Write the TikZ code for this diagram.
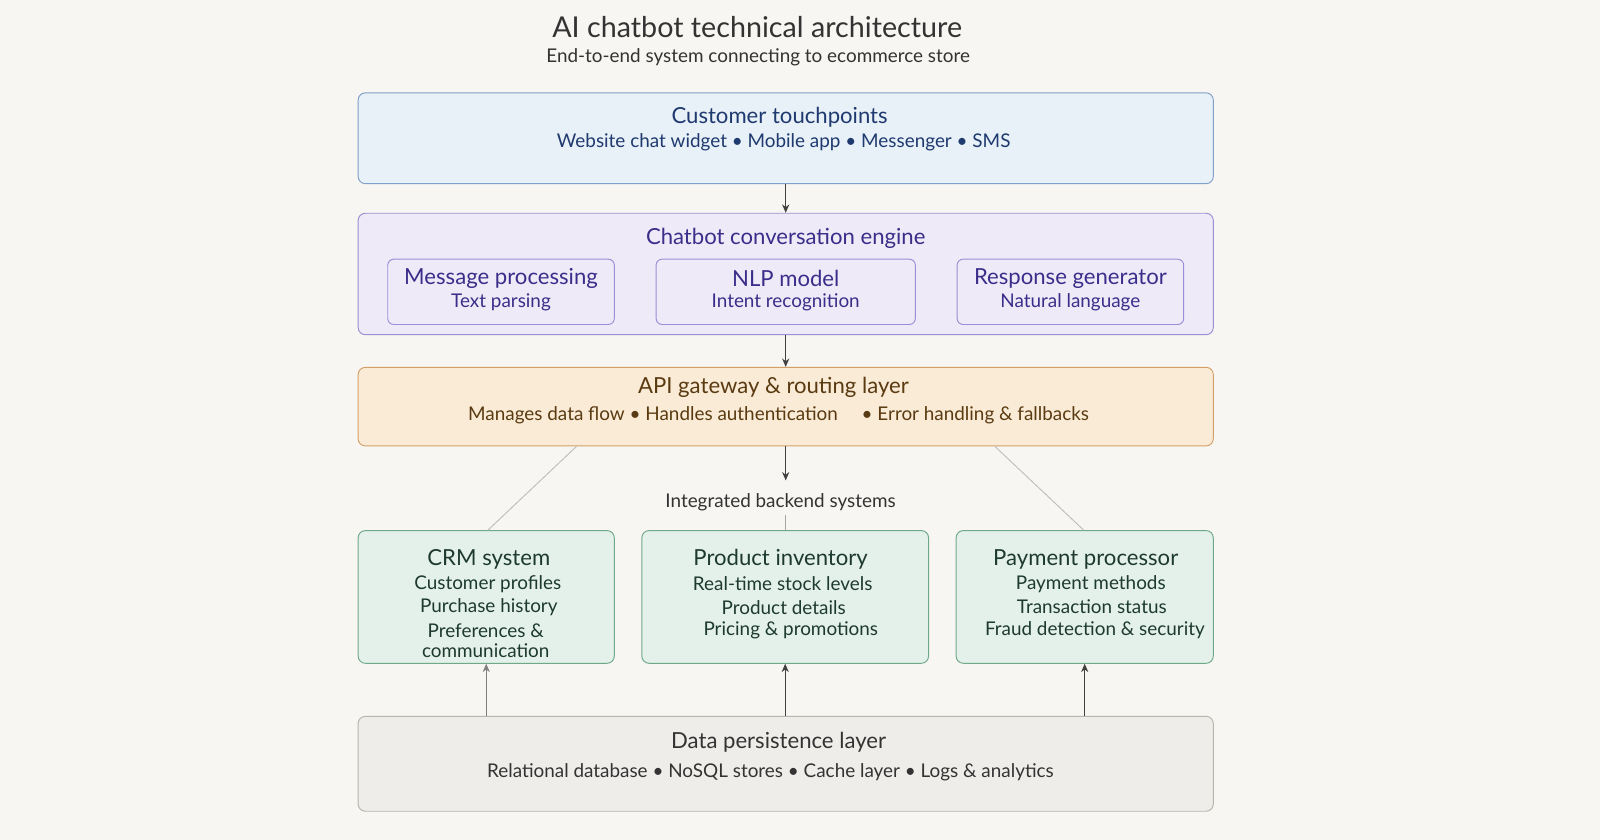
\documentclass[tikz,border=0pt]{standalone}
\usepackage{fontspec}
\setmainfont{Lato}
\usetikzlibrary{positioning,arrows.meta}
\definecolor{bgcol}{HTML}{F8F6F2}
\definecolor{bluefill}{HTML}{E8F0F8}\definecolor{blueline}{HTML}{7FA0C8}\definecolor{bluetext}{HTML}{1F3A6E}
\definecolor{purpfill}{HTML}{EEEAF8}\definecolor{purpline}{HTML}{9B8FD6}\definecolor{purptext}{HTML}{3A2E8A}
\definecolor{orgfill}{HTML}{FAEBD7}\definecolor{orgline}{HTML}{D4A06A}\definecolor{orgtext}{HTML}{5A3A10}
\definecolor{grnfill}{HTML}{E3F1EA}\definecolor{grnline}{HTML}{6FA88A}\definecolor{grntext}{HTML}{1E3A2E}
\definecolor{gryfill}{HTML}{EFEDEA}\definecolor{gryline}{HTML}{B8B4AE}\definecolor{grytext}{HTML}{333333}
\tikzset{
  layer/.style={draw=#1line,fill=#1fill,rounded corners=6pt,line width=0.8pt,minimum width=25.14cm,inner sep=0pt},
  inbox/.style={draw=purpline,fill=purpfill,rounded corners=5pt,line width=0.8pt,minimum height=1.92cm,inner sep=0pt},
  card/.style={draw=grnline,fill=grnfill,rounded corners=6pt,line width=0.8pt,minimum height=3.9cm,inner sep=0pt},
  head/.style={font=\fontsize{18.5}{22}\selectfont},
  sub/.style={font=\fontsize{15.8}{19}\selectfont},
  flow/.style={-{Stealth[length=7pt,width=6pt]},line width=0.9pt,draw=black!75},
}
\begin{document}
\begin{tikzpicture}[x=0.03cm,y=-0.03cm]
	\useasboundingbox[fill=bgcol] (0,0) rectangle (1568,823);
	
	\node[font=\fontsize{24}{28}\selectfont,text=black!80] (title) at (742,27) {AI chatbot technical architecture};
	\node[sub,text=black!80] (subtitle) at (743,56) {End-to-end system connecting to ecommerce store};
	
	% touchpoints
	\node[layer=blue,minimum height=2.67cm] (touch) at (770,135.5) {};
	\node[head,text=bluetext] (toucht) at (764,115) {Customer touchpoints};
	\node[sub,text=bluetext] at (768,139) {Website chat widget • Mobile app • Messenger • SMS};
	
	% engine
	\node[layer=purp,minimum height=3.57cm] (engine) at (770,268.5) {};
	\node[head,text=purptext] at (770,234) {Chatbot conversation engine};
	\node[inbox,minimum width=6.66cm] (msg) at (491,286) {};
	\node[inbox,minimum width=7.62cm] (nlp) at (770,286) {};
	\node[inbox,minimum width=6.66cm] (resp) at (1049,286) {};
	\foreach \n/\a/\b in {msg/Message processing/Text parsing,nlp/NLP model/Intent recognition,resp/Response generator/Natural language}{
		\node[head,text=purptext] at ([yshift=0.4cm]\n.center) {\a};
		\node[sub,text=purptext] at ([yshift=-0.3cm]\n.center) {\b};
	}
	
	% api
	\node[layer=org,minimum height=2.31cm] (api) at (770,398.5) {};
	\node[head,text=orgtext] at (758,380) {API gateway \& routing layer};
	\node[sub,text=orgtext] at (763,407) {Manages data flow • Handles authentication \quad• Error handling \& fallbacks};
	
	\node[sub,text=black!80] (backend) at (765,492) {Integrated backend systems};
	
	% backend cards
	\node[card,minimum width=7.53cm] (crm) at (476.5,585) {};
	\node[card,minimum width=8.43cm] (inv) at (769.5,585) {};
	\node[card,minimum width=7.56cm] (pay) at (1063,585) {};
	\node[head,text=grntext] at (479,548) {CRM system};
	\node[sub,text=grntext,align=center] at (478,572) {Customer profiles};
	\node[sub,text=grntext] at (479,595) {Purchase history};
	\node[sub,text=grntext,align=center,font=\fontsize{15.8}{17}\selectfont] at (476,628) {Preferences \&\\communication};
	\node[head,text=grntext] at (765,548) {Product inventory};
	\node[sub,text=grntext] at (767,572) {Real-time stock levels};
	\node[sub,text=grntext] at (768,595) {Product details};
	\node[sub,text=grntext] at (775,618) {Pricing \& promotions};
	\node[head,text=grntext] at (1064,548) {Payment processor};
	\node[sub,text=grntext] at (1069,572) {Payment methods};
	\node[sub,text=grntext] at (1070,595) {Transaction status};
	\node[sub,text=grntext] at (1073,618) {Fraud detection \& security};
	
	% data layer
	\node[layer=gry,minimum height=2.79cm] (data) at (770,748.5) {};
	\node[head,text=grytext] at (763,727) {Data persistence layer};
	\node[sub,text=grytext] at (755,757) {Relational database • NoSQL stores • Cache layer • Logs \& analytics};
	
	% connectors
	\draw[flow] (touch.south) -- (engine.north);
	\draw[flow] (engine.south) -- (api.north);
	\draw[flow] (api.south) -- ([yshift=-1cm]api.south);
	\draw[black!25,line width=0.8pt] ([xshift=-6.15cm]api.south) -- ([xshift=0.05cm]crm.north);
	\draw[black!25,line width=0.8pt] ([xshift=6.15cm]api.south) -- ([xshift=-0.03cm]pay.north);
	\draw[black!35,line width=0.8pt] (backend.south -| inv.north) -- (inv.north);
	\draw[flow,draw=black!50,line width=0.7pt] (data.north -| crm.south) -- (crm.south);
	\draw[flow] (data.north -| inv.south) -- (inv.south);
	\draw[flow] (data.north -| pay.south) -- (pay.south);
\end{tikzpicture}
\end{document}
